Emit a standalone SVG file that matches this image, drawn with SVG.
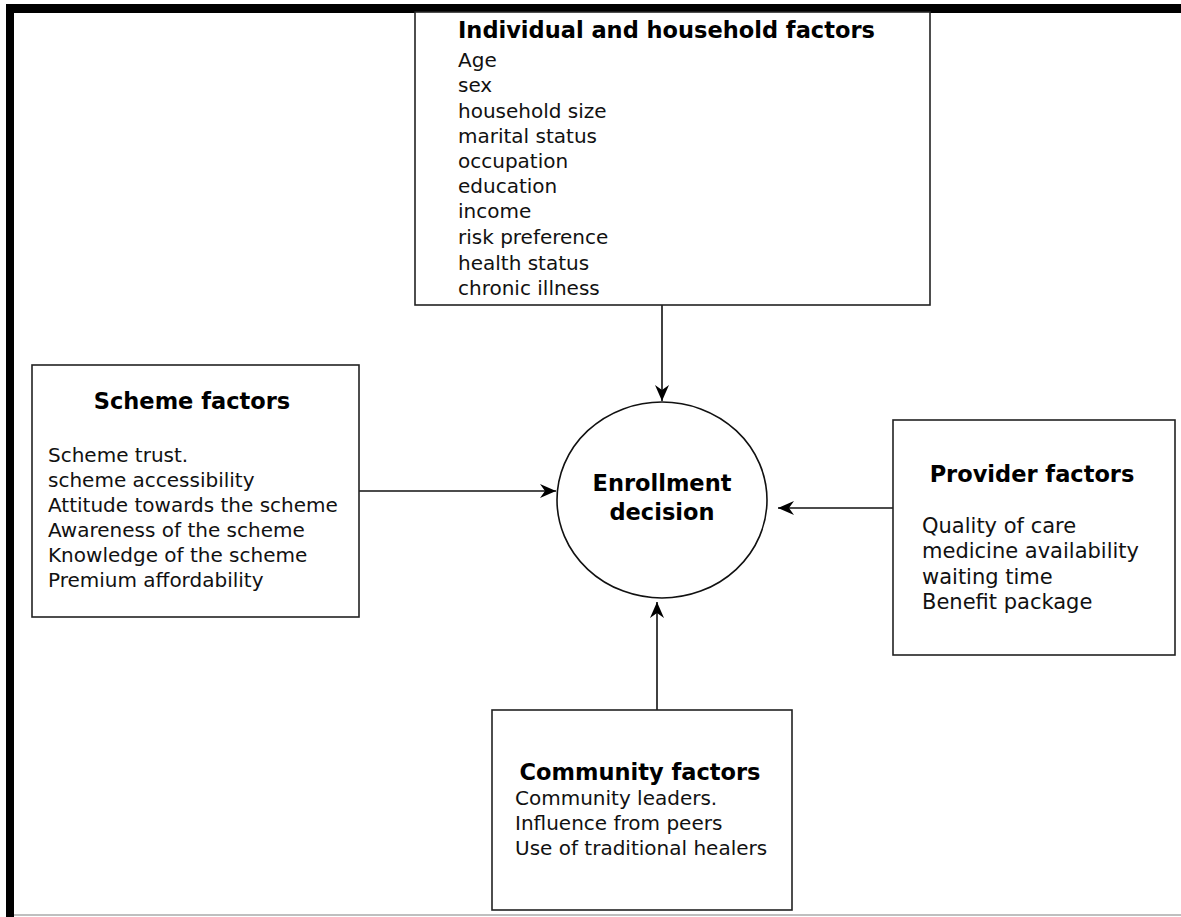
<svg xmlns="http://www.w3.org/2000/svg" width="1181" height="917" viewBox="0 0 1181 917">
<style>
.box{fill:#fff;stroke:#222;stroke-width:1.6}
.t{font-family:"DejaVu Sans",Verdana,sans-serif;font-size:20px;fill:#111}
.h{font-family:"DejaVu Sans",Verdana,sans-serif;font-size:22.5px;font-weight:bold;fill:#000}
.c{stroke:#111;stroke-width:1.6;fill:none}
</style>
<defs>
<marker id="ah" viewBox="0 0 16 14" refX="16" refY="7" markerWidth="16" markerHeight="14" markerUnits="userSpaceOnUse" orient="auto">
<path d="M0,0 L16,7 L0,14 L5,7 Z" fill="#000"/>
</marker>
</defs>
<rect width="1181" height="917" fill="#fff"/>
<g id="frame">
<rect x="6" y="4" width="1175" height="9" fill="#000"/>
<rect x="6" y="4" width="8" height="913" fill="#000"/>
<line x1="14" y1="915" x2="1181" y2="915" stroke="#aaa" stroke-width="1.5"/>
</g>
<g id="connectors">
<line class="c" x1="662" y1="305" x2="662" y2="401" marker-end="url(#ah)"/>
<line class="c" x1="359" y1="491" x2="556" y2="491" marker-end="url(#ah)"/>
<line class="c" x1="893" y1="508" x2="778" y2="508" marker-end="url(#ah)"/>
<line class="c" x1="657" y1="710" x2="657" y2="602" marker-end="url(#ah)"/>
</g>
<g id="individual">
<rect class="box" x="415" y="12" width="515" height="293"/>
<text class="h" x="458" y="38">Individual and household factors</text>
<text class="t" x="458" y="67">Age</text>
<text class="t" x="458" y="92">sex</text>
<text class="t" x="458" y="118">household size</text>
<text class="t" x="458" y="143">marital status</text>
<text class="t" x="458" y="168">occupation</text>
<text class="t" x="458" y="193">education</text>
<text class="t" x="458" y="218">income</text>
<text class="t" x="458" y="244">risk preference</text>
<text class="t" x="458" y="270">health status</text>
<text class="t" x="458" y="295">chronic illness</text>
</g>
<g id="scheme">
<rect class="box" x="32" y="365" width="327" height="252"/>
<text class="h" x="192" y="409" text-anchor="middle">Scheme factors</text>
<text class="t" x="48" y="462">Scheme trust.</text>
<text class="t" x="48" y="487">scheme accessibility</text>
<text class="t" x="48" y="512">Attitude towards the scheme</text>
<text class="t" x="48" y="537">Awareness of the scheme</text>
<text class="t" x="48" y="562">Knowledge of the scheme</text>
<text class="t" x="48" y="587">Premium affordability</text>
</g>
<g id="enrollment">
<ellipse cx="662" cy="500" rx="105" ry="98" fill="#fff" stroke="#111" stroke-width="1.6"/>
<text class="h" x="662" y="491" text-anchor="middle">Enrollment</text>
<text class="h" x="662" y="520" text-anchor="middle">decision</text>
</g>
<g id="provider">
<rect class="box" x="893" y="420" width="282" height="235"/>
<text class="h" x="1032" y="482" text-anchor="middle">Provider factors</text>
<text class="t" x="922" y="533" style="font-size:21px">Quality of care</text>
<text class="t" x="922" y="558" style="font-size:21px">medicine availability</text>
<text class="t" x="922" y="584" style="font-size:21px">waiting time</text>
<text class="t" x="922" y="609" style="font-size:21px">Benefit package</text>
</g>
<g id="community">
<rect class="box" x="492" y="710" width="300" height="200"/>
<text class="h" x="640" y="780" text-anchor="middle">Community factors</text>
<text class="t" x="515" y="805">Community leaders.</text>
<text class="t" x="515" y="830">Influence from peers</text>
<text class="t" x="515" y="855">Use of traditional healers</text>
</g>
</svg>
